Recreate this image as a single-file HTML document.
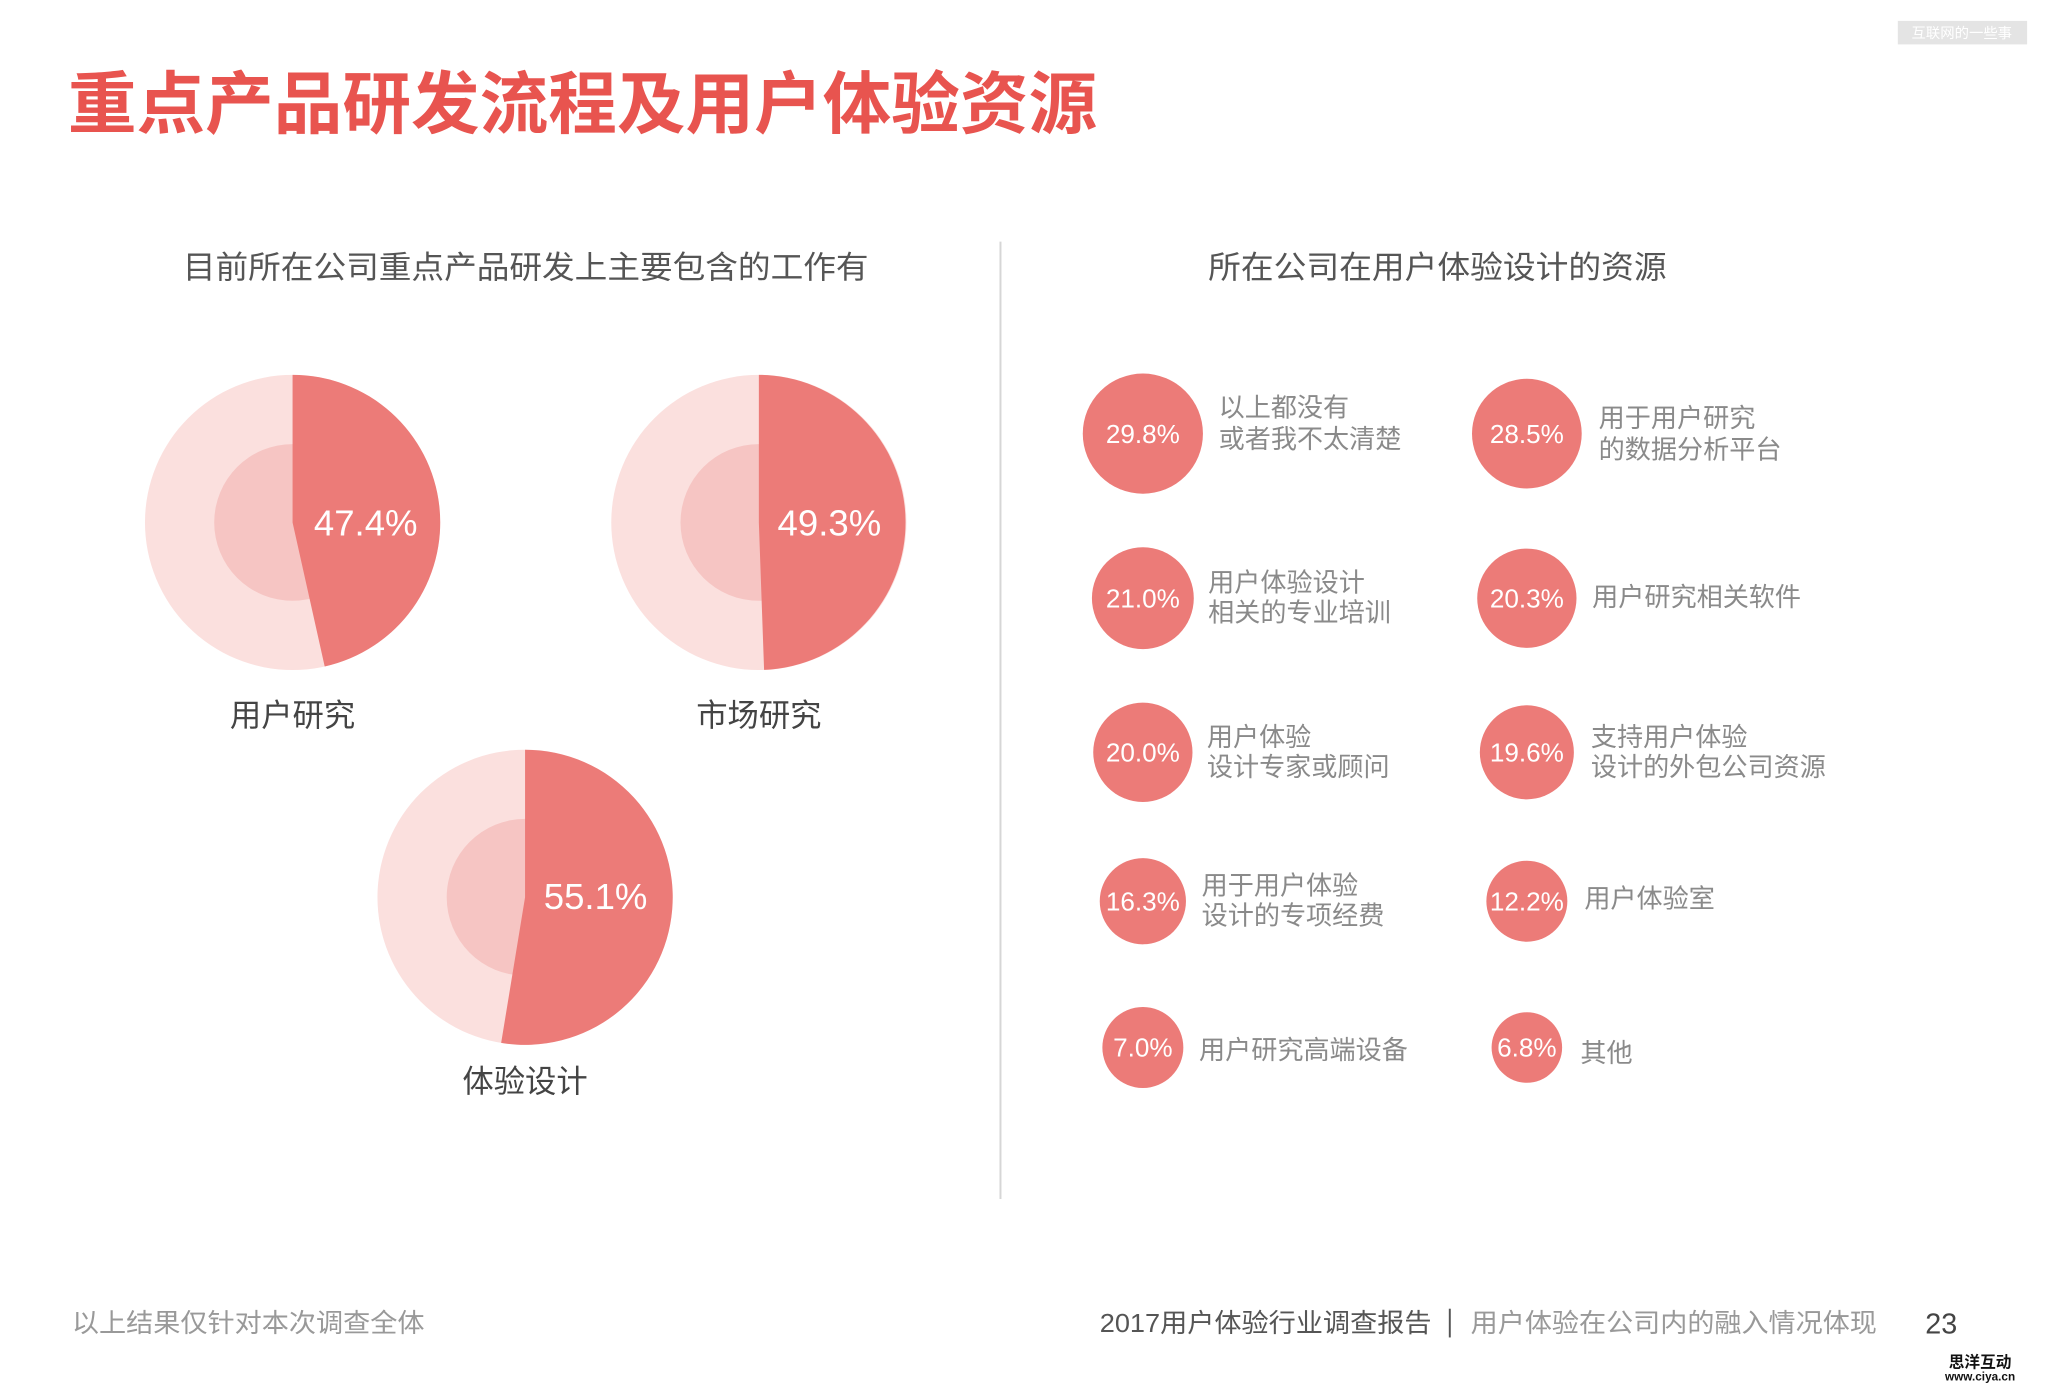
<!DOCTYPE html>
<html><head><meta charset="utf-8"><style>
html,body{margin:0;padding:0;background:#fff;}
svg{display:block;}
text{font-family:"Liberation Sans","Noto Sans CJK SC",sans-serif;}
</style></head><body>
<svg width="2048" height="1391" viewBox="0 0 1568 1065" preserveAspectRatio="none" xmlns="http://www.w3.org/2000/svg">
<rect x="0" y="0" width="1568" height="1065" fill="#fff"/>
<rect x="1453" y="16" width="99" height="18" fill="#e4e4e4"/>
<text x="1502" y="29" font-size="11" fill="#fff" text-anchor="middle">互联网的一些事</text>
<text x="52" y="98" font-size="52" font-weight="bold" fill="#e8544f" textLength="788" lengthAdjust="spacingAndGlyphs">重点产品研发流程及用户体验资源</text>
<text x="140" y="213" font-size="24" fill="#555" textLength="525" lengthAdjust="spacingAndGlyphs">目前所在公司重点产品研发上主要包含的工作有</text>
<text x="925" y="213" font-size="24" fill="#555" textLength="351" lengthAdjust="spacingAndGlyphs">所在公司在用户体验设计的资源</text>
<line x1="766" y1="185" x2="766" y2="918" stroke="#d6d6d6" stroke-width="1.5"/>

<g>
<circle cx="224" cy="400" r="113" fill="#fbe0de"/><circle cx="224" cy="400" r="60" fill="#f6c5c3"/>
<path d="M224,400 L224,287 A113,113 0 0 1 248.6,510.3 Z" fill="#ec7b78"/>
<text x="280" y="410" font-size="28" fill="#fff" text-anchor="middle">47.4%</text>
<text x="224" y="556" font-size="24" fill="#444" text-anchor="middle">用户研究</text>
</g>
<g>
<circle cx="581" cy="400" r="113" fill="#fbe0de"/><circle cx="581" cy="400" r="60" fill="#f6c5c3"/>
<path d="M581,400 L581,287 A113,113 0 0 1 585,512.9 Z" fill="#ec7b78"/>
<text x="635" y="410" font-size="28" fill="#fff" text-anchor="middle">49.3%</text>
<text x="581" y="556" font-size="24" fill="#444" text-anchor="middle">市场研究</text>
</g>
<g>
<circle cx="402" cy="687" r="113" fill="#fbe0de"/><circle cx="402" cy="687" r="60" fill="#f6c5c3"/>
<path d="M402,687 L402,574 A113,113 0 1 1 383.7,798.5 Z" fill="#ec7b78"/>
<text x="456" y="696" font-size="28" fill="#fff" text-anchor="middle">55.1%</text>
<text x="402" y="836" font-size="24" fill="#444" text-anchor="middle">体验设计</text>
</g>

<g fill="#ec7b78">
<circle cx="875" cy="332" r="46"/><circle cx="1169" cy="332" r="42"/>
<circle cx="875" cy="458" r="39"/><circle cx="1169" cy="458" r="38"/>
<circle cx="875" cy="576" r="38"/><circle cx="1169" cy="576" r="36"/>
<circle cx="875" cy="690" r="33"/><circle cx="1169" cy="690" r="31"/>
<circle cx="875" cy="802" r="31"/><circle cx="1169" cy="802" r="27"/>
</g>
<g font-size="20" fill="#fff" text-anchor="middle">
<text x="875" y="339">29.8%</text><text x="1169" y="339">28.5%</text>
<text x="875" y="465">21.0%</text><text x="1169" y="465">20.3%</text>
<text x="875" y="583">20.0%</text><text x="1169" y="583">19.6%</text>
<text x="875" y="697">16.3%</text><text x="1169" y="697">12.2%</text>
<text x="875" y="809">7.0%</text><text x="1169" y="809">6.8%</text>
</g>
<g font-size="20" fill="#8a8a8a">
<text x="933" y="319">以上都没有</text><text x="933" y="343">或者我不太清楚</text>
<text x="1224" y="327">用于用户研究</text><text x="1224" y="351">的数据分析平台</text>
<text x="925" y="453">用户体验设计</text><text x="925" y="476">相关的专业培训</text>
<text x="1219" y="464">用户研究相关软件</text>
<text x="924" y="571">用户体验</text><text x="924" y="594">设计专家或顾问</text>
<text x="1218" y="571">支持用户体验</text><text x="1218" y="594">设计的外包公司资源</text>
<text x="920" y="685">用于用户体验</text><text x="920" y="708">设计的专项经费</text>
<text x="1213" y="695">用户体验室</text>
<text x="918" y="811">用户研究高端设备</text>
<text x="1210" y="813">其他</text>
</g>

<text x="55" y="1020" font-size="20" fill="#999" textLength="270" lengthAdjust="spacingAndGlyphs">以上结果仅针对本次调查全体</text>
<text x="842" y="1020" font-size="20" fill="#555" textLength="254" lengthAdjust="spacingAndGlyphs">2017用户体验行业调查报告</text>
<line x1="1110" y1="1002" x2="1110" y2="1024" stroke="#555" stroke-width="1.5"/>
<text x="1126" y="1020" font-size="20" fill="#999" textLength="311" lengthAdjust="spacingAndGlyphs">用户体验在公司内的融入情况体现</text>
<text x="1474" y="1021" font-size="22" fill="#444">23</text>
<text x="1516" y="1047" font-size="12" font-weight="bold" fill="#111" text-anchor="middle">思洋互动</text>
<text x="1516" y="1057" font-size="9" font-weight="bold" fill="#111" text-anchor="middle">www.ciya.cn</text>
</svg>
</body></html>
